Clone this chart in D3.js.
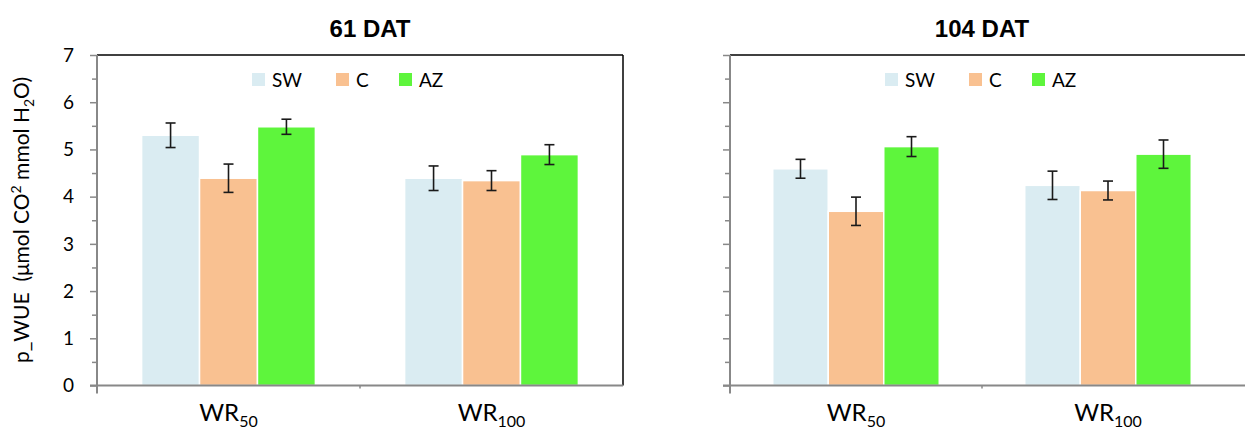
<!DOCTYPE html>
<html><head><meta charset="utf-8">
<script src="https://cdn.jsdelivr.net/npm/d3@7"></script>
<style>body{margin:0;background:#fff}svg{display:block}</style>
</head><body>
<svg id="c" width="1245" height="430"></svg>
<script>
const categories = ["WR50", "WR100"];
const catMain = ["WR", "WR"];
const catSub = ["50", "100"];
const series = ["SW", "C", "AZ"];
const colors = ["#DAECF2", "#F9C191", "#5EF53C"];
const panelTitles = ["61 DAT", "104 DAT"];
// values[category][series]
const values61 = [[5.30, 4.39, 5.48], [4.39, 4.34, 4.89]];
const errors61 = [[0.26, 0.30, 0.16], [0.26, 0.21, 0.21]];
const values104 = [[4.59, 3.69, 5.06], [4.24, 4.13, 4.90]];
const errors104 = [[0.20, 0.30, 0.21], [0.30, 0.20, 0.30]];
const yTicks = [0,1,2,3,4,5,6,7];

const svg = d3.select("#c");
const y = d3.scaleLinear().domain([0,7]).range([385.5, 55]);
const panels = [
  {x0: 97, x1: 623, frameEnd: 623, rightBorder: true, labels: true, vals: values61, errs: errors61, title: panelTitles[0], titleX: 370},
  {x0: 730, x1: 1234, frameEnd: 1250, rightBorder: false, labels: false, vals: values104, errs: errors104, title: panelTitles[1], titleX: 982}
];
const font = "Lato, 'Open Sans', sans-serif";

panels.forEach(p => {
  const g = svg.append("g");
  const x = d3.scaleBand().domain(categories).range([p.x0, p.x1]);
  const xi = d3.scaleBand().domain(series).range([0, x.bandwidth()]).paddingInner(0).paddingOuter(0.77);

  categories.forEach((c, ci) => {
    series.forEach((s, si) => {
      const v = p.vals[ci][si];
      g.append("rect")
        .attr("x", x(c) + xi(s))
        .attr("y", y(v))
        .attr("width", xi.bandwidth())
        .attr("height", y(0) - y(v))
        .attr("fill", colors[si])
        .attr("stroke", "#fff").attr("stroke-width", 1.5);
    });
  });
  categories.forEach((c, ci) => {
    series.forEach((s, si) => {
      const v = p.vals[ci][si], e = p.errs[ci][si];
      const cx = x(c) + xi(s) + xi.bandwidth()/2;
      const eg = g.append("g").attr("stroke", "#1a1a1a").attr("stroke-width", 1.6);
      eg.append("line").attr("x1", cx).attr("x2", cx).attr("y1", y(v+e)).attr("y2", y(v-e));
      eg.append("line").attr("x1", cx-5).attr("x2", cx+5).attr("y1", y(v+e)).attr("y2", y(v+e));
      eg.append("line").attr("x1", cx-5).attr("x2", cx+5).attr("y1", y(v-e)).attr("y2", y(v-e));
    });
  });

  g.append("line").attr("x1", p.x0).attr("x2", p.frameEnd).attr("y1", y(7)).attr("y2", y(7))
    .attr("stroke", "#000").attr("stroke-width", 1.5);
  if (p.rightBorder) {
    g.append("line").attr("x1", p.x1).attr("x2", p.x1).attr("y1", y(7)).attr("y2", y(0))
      .attr("stroke", "#000").attr("stroke-width", 1.5);
  }

  const minor = d3.range(0, 7.01, 0.5);
  const yg = g.append("g").attr("transform", `translate(${p.x0},0)`);
  yg.call(d3.axisLeft(y).tickValues(minor).tickSize(5).tickFormat(""));
  yg.selectAll(".tick line").attr("stroke", "#888").attr("stroke-width", 1.5)
    .attr("x2", d => Number.isInteger(d) ? -7 : -5);
  yg.select(".domain").remove();
  yg.append("line").attr("x1", 0).attr("x2", 0).attr("y1", y(7)).attr("y2", y(0) + 8)
    .attr("stroke", "#888").attr("stroke-width", 2);
  if (p.labels) {
    yTicks.forEach(t => {
      g.append("text").attr("x", p.x0 - 23).attr("y", y(t)).attr("dy", "0.36em")
        .attr("text-anchor", "end").attr("font-family", font).attr("font-size", 19)
        .attr("fill", "#000").text(t);
    });
  }

  g.append("line").attr("x1", p.x0 - 7).attr("x2", p.frameEnd).attr("y1", y(0)).attr("y2", y(0))
    .attr("stroke", "#888").attr("stroke-width", 2);
  g.append("line").attr("x1", p.x0 + x.bandwidth()).attr("x2", p.x0 + x.bandwidth())
    .attr("y1", y(0)).attr("y2", y(0) + 3).attr("stroke", "#888").attr("stroke-width", 1.5);
  categories.forEach((c, ci) => {
    const t = g.append("text").attr("x", x(c) + x.bandwidth()/2).attr("y", 421)
      .attr("text-anchor", "middle").attr("font-family", font).attr("font-size", 24).attr("fill", "#000");
    t.append("tspan").text(catMain[ci]);
    t.append("tspan").attr("font-size", 16).attr("dy", 6).text(catSub[ci]);
  });

  g.append("text").attr("x", p.titleX).attr("y", 37)
    .attr("text-anchor", "middle").attr("font-family", "'Liberation Sans', Arial, sans-serif")
    .attr("font-weight", "bold").attr("font-size", 24).attr("fill", "#000").text(p.title);

  const lx = [p.x0 + 155, p.x0 + 239, p.x0 + 302];
  series.forEach((s, si) => {
    g.append("rect").attr("x", lx[si]).attr("y", 73).attr("width", 13).attr("height", 13).attr("fill", colors[si]);
    g.append("text").attr("x", lx[si] + 20).attr("y", 80).attr("dy", "0.36em")
      .attr("font-family", font).attr("font-size", 19).attr("fill", "#000").text(s);
  });
});

const yt = svg.append("text").attr("transform", "translate(29,220) rotate(-90)")
  .attr("text-anchor", "middle").attr("font-family", font).attr("font-size", 21).attr("fill", "#000");
yt.append("tspan").text("p_WUE\u00a0\u00a0(μmol CO");
yt.append("tspan").attr("font-size", 14).attr("dy", -8).text("2");
yt.append("tspan").attr("dy", 8).text(" mmol H");
yt.append("tspan").attr("font-size", 14).attr("dy", 5).text("2");
yt.append("tspan").attr("dy", -5).text("O)");
</script>
</body></html>
